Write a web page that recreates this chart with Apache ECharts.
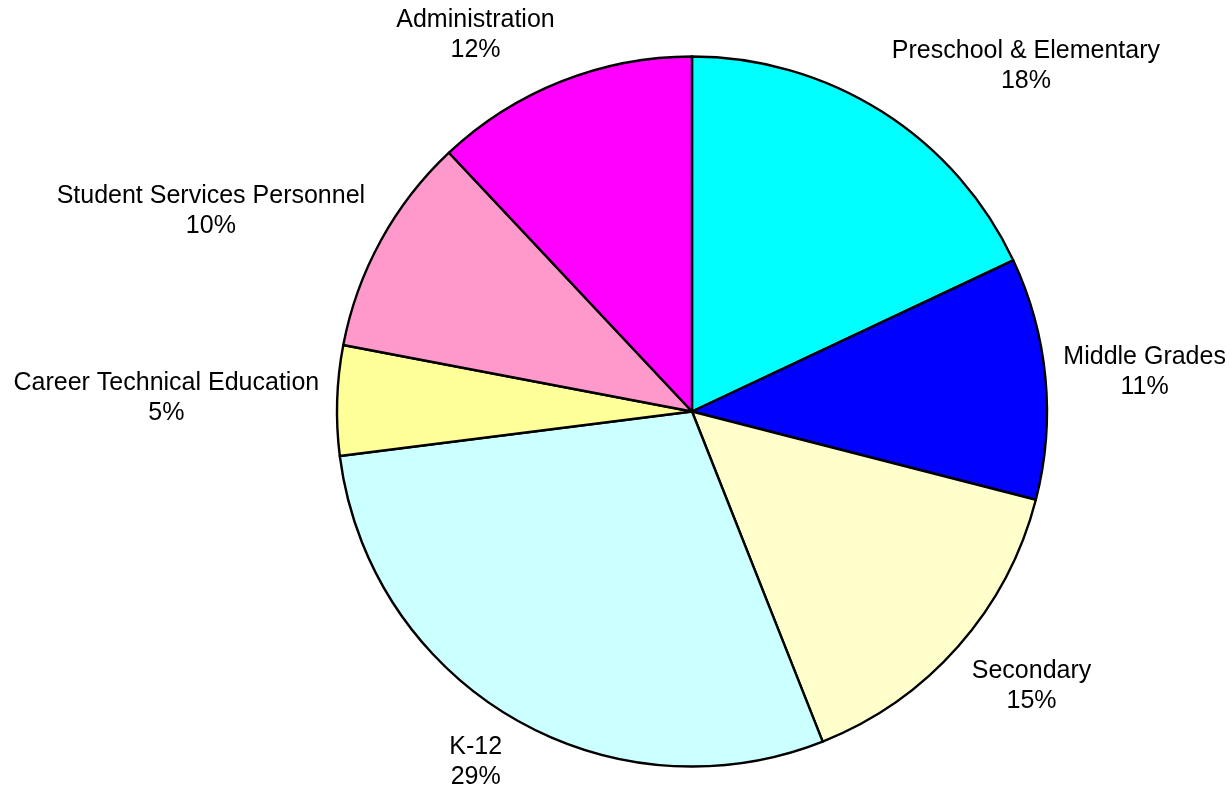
<!DOCTYPE html>
<html>
<head>
<meta charset="utf-8">
<script src="https://cdn.jsdelivr.net/npm/echarts@6/dist/echarts.min.js"></script>
<style>
  html, body { margin: 0; padding: 0; background: #fff; }
  #chart { width: 1230px; height: 793px; }
</style>
</head>
<body>
<div id="chart"></div>
<script>
// slices, clockwise from 12 o'clock
const names = [
  "Preschool & Elementary",
  "Middle Grades",
  "Secondary",
  "K-12",
  "Career Technical Education",
  "Student Services Personnel",
  "Administration"
]
const values = [18, 11, 15, 29, 5, 10, 12]
const colors = ["#00ffff", "#0000ff", "#ffffcc", "#ccffff", "#ffff99", "#ff99cc", "#ff00ff"]

const CX = 692
const CY = 411.5
const R = 355
const total = values.reduce((a, b) => a + b, 0)

// middle angle of a slice, radians clockwise from the top
const midAngle = (i) => {
  let s = 0
  for (let k = 0; k < i; k++) s += values[k]
  return ((s + values[i] / 2) / total) * 2 * Math.PI
}

const clamp = (v) => Math.max(-1, Math.min(1, v))

const chart = echarts.init(document.getElementById("chart"))
chart.setOption({
  animation: false,
  series: [
    {
      type: "pie",
      center: [CX, CY],
      radius: R,
      startAngle: 90,
      clockwise: true,
      data: names.map((n, i) => ({ name: n, value: values[i], itemStyle: { color: colors[i] } })),
      itemStyle: {
        borderColor: "#000",
        borderWidth: 2.4
      },
      label: {
        show: true,
        position: "outside",
        formatter: (p) => p.name + "\n" + Math.round(p.percent) + "%",
        color: "#000",
        fontFamily: "Liberation Sans, Arial, sans-serif",
        fontSize: 25,
        lineHeight: 30,
        align: "center",
        overflow: "none"
      },
      labelLine: { show: false },
      emphasis: { disabled: true },
      // place each label just outside the rim, like a spreadsheet pie
      labelLayout: (params) => {
        const a = midAngle(params.dataIndex)
        const dx = Math.sin(a)
        const dy = -Math.cos(a)
        const px = CX + dx * (R + 18)
        const py = CY + dy * (R + 18)
        const w = params.labelRect.width
        const h = params.labelRect.height
        return {
          x: px + (clamp(dx * 3) * w) / 2,
          y: py + (clamp(dy * 1.4) * h) / 2,
          align: "center",
          verticalAlign: "middle"
        }
      }
    }
  ]
})
</script>
</body>
</html>
